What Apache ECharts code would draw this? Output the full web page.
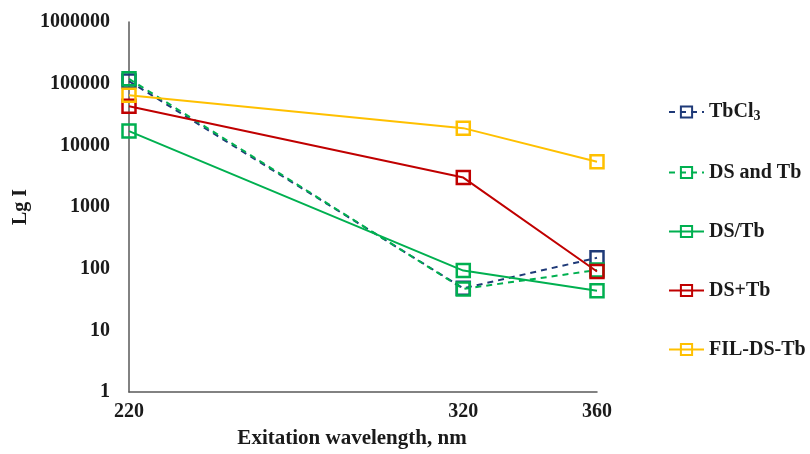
<!DOCTYPE html>
<html>
<head>
<meta charset="utf-8">
<script src="https://cdn.jsdelivr.net/npm/echarts@6/dist/echarts.min.js"></script>
<style>
    html, body { margin: 0; padding: 0; background: #fff; }
    #chart { width: 810px; height: 454px; }
</style>
</head>
<body>
<div id="chart"></div>
<script>
    // wavelengths (nm) and intensities
    var wavelengths = [220, 320, 360];
    var xTickLabels = [220, 320, 360];
    var tbcl3 = [110000, 48, 150];
    var dsAndTb = [120000, 47, 95];
    var dsSlashTb = [17000, 93, 44];
    var dsPlusTb = [43000, 3000, 90];
    var filDsTb = [65000, 19000, 5400];

    var names = ['TbCl3', 'DS and Tb', 'DS/Tb', 'DS+Tb', 'FIL-DS-Tb'];
    var colors = ['#1f3a78', '#00b050', '#00b050', '#c00000', '#ffc000'];
    var dashed = [true, true, false, false, false];
    var values = [tbcl3, dsAndTb, dsSlashTb, dsPlusTb, filDsTb];

    var font = '"Liberation Serif", "Times New Roman", serif';

    function pairs(ys) {
        return wavelengths.map(function (x, i) { return [x, ys[i]]; });
    }

    var series = names.map(function (n, i) {
        return {
            name: n,
            type: 'line',
            data: pairs(values[i]),
            symbol: 'rect',
            symbolSize: 13,
            lineStyle: { color: colors[i], width: 2, type: dashed[i] ? [6, 5] : 'solid' },
            itemStyle: { color: 'transparent', borderColor: colors[i], borderWidth: 2.5 },
            emphasis: { disabled: true },
            animation: false
        };
    });

    var chart = echarts.init(document.getElementById('chart'));
    chart.setOption({
        grid: { left: 129, right: 213, top: 22, bottom: 60 },
        legend: {
            orient: 'vertical',
            left: 668,
            top: 102,
            padding: 0,
            itemWidth: 35,
            itemHeight: 14,
            itemGap: 39,
            data: names,
            textStyle: {
                fontFamily: font, fontSize: 20, fontWeight: 'bold', color: '#1a1a1a',
                rich: {
                    sub: { fontFamily: font, fontSize: 14, fontWeight: 'bold', color: '#1a1a1a', verticalAlign: 'bottom', padding: [9, 0, 0, 0] }
                }
            },
            formatter: function (n) {
                return n === 'TbCl3' ? 'TbCl{sub|3}' : n;
            }
        },
        xAxis: {
            type: 'value',
            min: 220,
            max: 360,
            interval: 20,
            name: 'Exitation wavelength, nm',
            nameLocation: 'middle',
            nameGap: 36,
            nameTextStyle: { fontFamily: font, fontSize: 21, fontWeight: 'bold', color: '#1a1a1a', padding: [0, 22, 0, 0] },
            axisLine: { lineStyle: { color: '#595959', width: 1.5 } },
            axisTick: { show: false },
            splitLine: { show: false },
            axisLabel: {
                margin: 10,
                fontFamily: font, fontSize: 20, fontWeight: 'bold', color: '#1a1a1a',
                formatter: function (v) {
                    return xTickLabels.indexOf(v) >= 0 ? String(v) : '';
                }
            }
        },
        yAxis: {
            type: 'log',
            logBase: 10,
            min: 1,
            max: 1000000,
            name: 'Lg I',
            nameLocation: 'middle',
            nameGap: 98,
            nameMoveOverlap: false,
            nameRotate: 90,
            nameTextStyle: { fontFamily: font, fontSize: 20, fontWeight: 'bold', color: '#1a1a1a' },
            axisLine: { show: true, lineStyle: { color: '#595959', width: 1.5 } },
            axisTick: { show: false },
            splitLine: { show: false },
            axisLabel: {
                margin: 19,
                fontFamily: font, fontSize: 20, fontWeight: 'bold', color: '#1a1a1a',
                formatter: function (v) { return String(Math.round(v)); }
            }
        },
        series: series
    });
</script>
</body>
</html>
